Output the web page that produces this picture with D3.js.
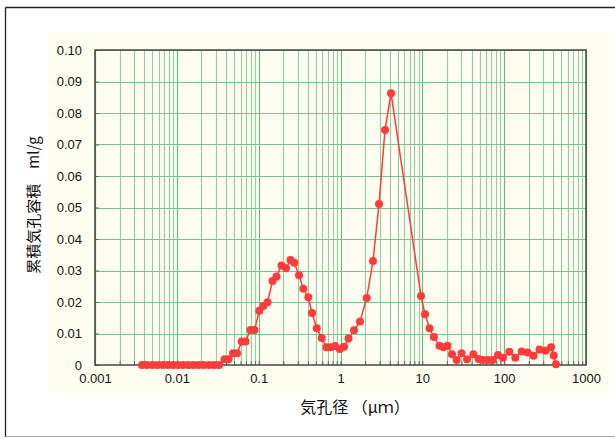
<!DOCTYPE html>
<html>
<head>
<meta charset="utf-8">
<script src="https://cdn.jsdelivr.net/npm/d3@7"></script>
<style>
  body { margin: 0; background: #fff; }
  svg { display: block; }
</style>
</head>
<body>
<script>
// pore diameter (um) and cumulative pore volume (ml/g)
const poreDiameter = [
  0.00375, 0.00432, 0.00504, 0.0058, 0.00678, 0.0078, 0.00898, 0.01033,
  0.01189, 0.01389, 0.01599, 0.0184, 0.02118, 0.02472, 0.02846, 0.03276,
  0.03825, 0.0428, 0.04858, 0.05435, 0.06205, 0.06906, 0.07947, 0.08896,
  0.1018, 0.1139, 0.1282, 0.1476, 0.1652, 0.1901, 0.2158, 0.2449,
  0.2725, 0.3112, 0.3512, 0.4043, 0.4485, 0.5121, 0.5894, 0.6745,
  0.7551, 0.8567, 0.9809, 1.104, 1.253, 1.463, 1.731, 2.091,
  2.496, 2.955, 3.499, 4.142, 9.636, 10.78, 12.24, 13.81,
  16.22, 18.15, 20.31, 23.05, 26.31, 30.11, 35.16, 41.98,
  48.6, 55.61, 63.49, 72.05, 84.1, 96.81, 115.6, 136.8,
  163.9, 192.9, 228.4, 270.4, 320.2, 373.7, 403.3, 430.1
];
const poreVolume = [
  0, 0, 0, 0, 0, 0, 0, 0,
  0, 0, 0, 0, 0, 0, 0, 0,
  0.0018, 0.0018, 0.0037, 0.0037, 0.0075, 0.0075, 0.0111, 0.0111,
  0.0172, 0.0187, 0.0199, 0.0267, 0.0281, 0.0316, 0.0307, 0.0333,
  0.0325, 0.0285, 0.0242, 0.0215, 0.0165, 0.0117, 0.0086, 0.0056,
  0.0056, 0.006, 0.0051, 0.0058, 0.0084, 0.011, 0.0138, 0.0213,
  0.033, 0.0511, 0.0746, 0.0863, 0.0219, 0.0161, 0.0117, 0.0089,
  0.0061, 0.0056, 0.0061, 0.0034, 0.0016, 0.0037, 0.0018, 0.0034,
  0.0019, 0.0016, 0.0016, 0.0016, 0.0032, 0.0023, 0.0042, 0.0023,
  0.0043, 0.004, 0.0029, 0.0049, 0.0045, 0.0056, 0.003, 0.0002
];

const xTickValues = [0.001, 0.01, 0.1, 1, 10, 100, 1000];
const xTickLabels = ['0.001', '0.01', '0.1', '1', '10', '100', '1000'];
const yTickValues = [0, 0.01, 0.02, 0.03, 0.04, 0.05, 0.06, 0.07, 0.08, 0.09, 0.10];
const yTickLabels = ['0', '0.01', '0.02', '0.03', '0.04', '0.05', '0.06', '0.07', '0.08', '0.09', '0.10'];

const xTitle = '気孔径 （μｍ）';
const yTitle = '累積気孔容積　ml/g';

const W = 615, H = 439;
const plot = {left: 95, right: 586, top: 50, bottom: 365};

const x = d3.scaleLog().domain([0.001, 1000]).range([plot.left, plot.right]);
const y = d3.scaleLinear().domain([0, 0.1]).range([plot.bottom, plot.top]);

// 1..9 in every decade, for the log grid
const minorValues = [];
xTickValues.slice(0, -1).forEach(d => {
  for (let k = 1; k < 10; k++) minorValues.push(d * k);
});
minorValues.push(1000);

const points = poreDiameter.map((d, i) => ({d: d, v: poreVolume[i]}));

const svg = d3.select('body').append('svg')
  .attr('width', W)
  .attr('height', H);

// outer frame
svg.append('rect')
  .attr('x', 0).attr('y', 0).attr('width', W).attr('height', H)
  .attr('fill', '#fff');
svg.append('line').attr('x1', 5.5).attr('x2', W).attr('y1', 7.5).attr('y2', 7.5)
  .attr('stroke', '#222').attr('stroke-width', 1.3);
svg.append('line').attr('x1', 5.5).attr('x2', 5.5).attr('y1', 7.5).attr('y2', 437)
  .attr('stroke', '#222').attr('stroke-width', 1.3);
svg.append('line').attr('x1', 5.5).attr('x2', W).attr('y1', 436.5).attr('y2', 436.5)
  .attr('stroke', '#aaa').attr('stroke-width', 1);

// cream chart area
svg.append('rect')
  .attr('x', 48).attr('y', 32).attr('width', 562).attr('height', 361)
  .attr('fill', '#fefef0');

// grid
const grid = svg.append('g');
grid.selectAll('.vgrid')
  .data(minorValues)
  .join('line')
  .attr('class', 'vgrid')
  .attr('x1', d => Math.round(x(d)) + 0.5)
  .attr('x2', d => Math.round(x(d)) + 0.5)
  .attr('y1', plot.top)
  .attr('y2', plot.bottom)
  .attr('stroke', d => xTickValues.includes(d) ? '#6fb684' : '#98cca6')
  .attr('stroke-width', 1.2);

grid.selectAll('.hgrid')
  .data(yTickValues.slice(1))
  .join('line')
  .attr('class', 'hgrid')
  .attr('x1', plot.left)
  .attr('x2', plot.right)
  .attr('y1', d => Math.round(y(d)) + 0.5)
  .attr('y2', d => Math.round(y(d)) + 0.5)
  .attr('stroke', '#80bf91')
  .attr('stroke-width', 1.2);

// axes
const yAxis = svg.append('g')
  .attr('transform', `translate(${plot.left},0)`)
  .call(d3.axisLeft(y)
    .tickValues(yTickValues)
    .tickFormat((d, i) => yTickLabels[i])
    .tickSizeInner(-4)
    .tickSizeOuter(0)
    .tickPadding(13));
yAxis.select('.domain').remove();
yAxis.selectAll('line').attr('stroke', '#666');

const xMinor = svg.append('g')
  .attr('transform', `translate(0,${plot.bottom})`)
  .call(d3.axisBottom(x)
    .tickValues(minorValues)
    .tickFormat('')
    .tickSizeInner(-4)
    .tickSizeOuter(0));
xMinor.select('.domain').remove();
xMinor.selectAll('line').attr('stroke', '#666');

const xAxis = svg.append('g')
  .attr('transform', `translate(0,${plot.bottom})`)
  .call(d3.axisBottom(x)
    .tickValues(xTickValues)
    .tickFormat((d, i) => xTickLabels[i])
    .tickSize(0)
    .tickPadding(9));
xAxis.select('.domain').remove();

svg.selectAll('.tick text')
  .attr('fill', '#111')
  .style('font-family', '"Liberation Sans", Arial, sans-serif')
  .style('font-size', '13px');

// plot border
svg.append('rect')
  .attr('x', plot.left).attr('y', plot.top)
  .attr('width', plot.right - plot.left)
  .attr('height', plot.bottom - plot.top)
  .attr('fill', 'none')
  .attr('stroke', '#444')
  .attr('stroke-width', 1.5);

// series
const line = d3.line()
  .x(d => x(d.d))
  .y(d => y(d.v));

svg.append('path')
  .datum(points)
  .attr('fill', 'none')
  .attr('stroke', '#ff3b3b')
  .attr('stroke-width', 1.5)
  .attr('d', line);

svg.selectAll('.pt')
  .data(points)
  .join('circle')
  .attr('class', 'pt')
  .attr('cx', d => x(d.d))
  .attr('cy', d => y(d.v))
  .attr('r', 4)
  .attr('fill', '#ff3b3b');

// titles
svg.append('text')
  .attr('x', 355)
  .attr('y', 413)
  .attr('text-anchor', 'middle')
  .style('font-family', '"Noto Sans CJK JP", sans-serif')
  .style('font-size', '16px')
  .attr('fill', '#111')
  .text(xTitle);

svg.append('text')
  .attr('transform', 'translate(39,205) rotate(-90)')
  .attr('text-anchor', 'middle')
  .style('font-family', '"Noto Sans CJK JP", sans-serif')
  .style('font-size', '15px')
  .attr('fill', '#111')
  .text(yTitle);
</script>
</body>
</html>
